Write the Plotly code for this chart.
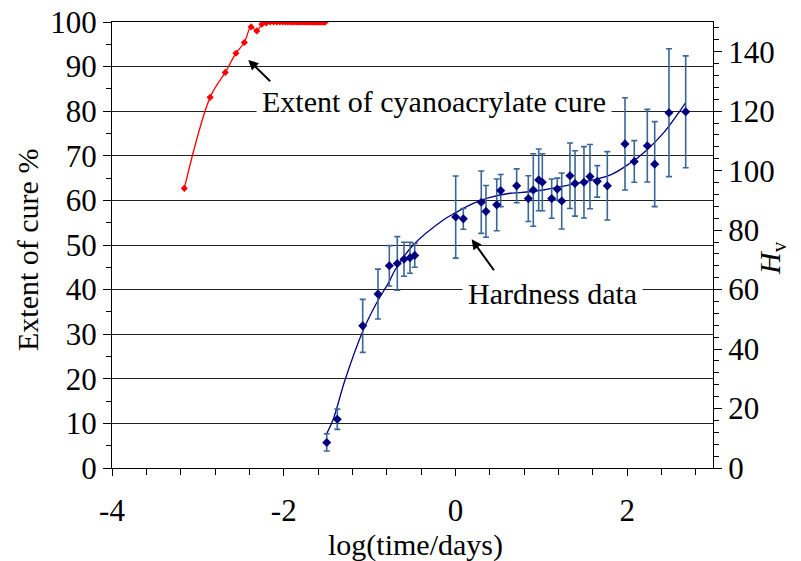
import plotly.graph_objects as go

# ---- Cyanoacrylate cure (left axis, %) ----
cure_x = [-3.158, -2.857, -2.681, -2.556, -2.459, -2.380, -2.313, -2.255, -2.204, -2.158,
          -2.117, -2.079, -2.045, -2.012, -1.982, -1.954, -1.928, -1.903, -1.880, -1.857,
          -1.836, -1.816, -1.797, -1.778, -1.761, -1.743, -1.727, -1.711, -1.696, -1.681,
          -1.667, -1.653, -1.640, -1.627, -1.614, -1.602, -1.590, -1.579, -1.567, -1.556,
          -1.546, -1.535, -1.525, -1.515]
cure_y = [62.7, 83.1, 88.7, 93.0, 95.4, 98.9, 98.0, 99.5, 99.8, 100,
          100, 100, 100, 100, 100, 100, 100, 100, 100, 100,
          100, 100, 100, 100, 100, 100, 100, 100, 100, 100,
          100, 100, 100, 100, 100, 100, 100, 100, 100, 100,
          100, 100, 100, 100]

# ---- Hardness data (right axis, Hv) ----
hard_x = [-1.499, -1.376, -1.080, -0.902, -0.770, -0.677, -0.599, -0.529, -0.474,
          0.003, 0.092, 0.301, 0.356, 0.481, 0.527, 0.713, 0.849, 0.907, 0.970,
          1.012, 1.121, 1.186, 1.238, 1.334, 1.393, 1.497, 1.567, 1.652, 1.769,
          1.975, 2.083, 2.235, 2.321, 2.487, 2.682]
hard_y = [8.6, 16.4, 47.8, 58.5, 68.0, 68.8, 70.2, 70.7, 71.5,
          84.4, 83.8, 89.4, 86.3, 88.5, 93.3, 94.9, 90.6, 93.5, 96.9,
          96.1, 90.6, 93.8, 89.8, 98.3, 95.7, 96.1, 98.0, 96.4, 94.9,
          109.0, 103.1, 108.4, 102.2, 119.5, 119.8]
hard_err = [2.9, 3.4, 8.9, 8.4, 6.8, 9.0, 5.7, 5.2, 4.0,
            13.8, 3.5, 10.5, 8.7, 8.7, 5.4, 5.7, 7.7, 12.2, 10.4,
            9.6, 6.6, 3.7, 9.4, 11.0, 11.0, 12.0, 10.8, 5.3, 11.5,
            15.5, 7.0, 12.2, 14.3, 21.5, 18.8]

# ---- Hardness trend curve ----
trend_x = [-1.508, -1.423, -1.286, -1.073, -0.937, -0.762, -0.704, -0.491, -0.141,
           0.003, 0.208, 0.403, 0.635, 0.752, 1.023, 1.412, 1.800, 2.033, 2.227,
           2.421, 2.682]
trend_y = [11.1, 16.4, 29.6, 46.4, 54.5, 63.2, 66.6, 75.0, 83.4,
           85.9, 89.0, 91.0, 92.4, 92.6, 93.5, 95.7, 98.5, 102.5, 106.9,
           112.6, 122.9]

# ---- Axis tick labels ----
x_tickvals = [-4, -2, 0, 2]
x_ticktext = ["-4", "-2", "0", "2"]

FONT = "Liberation Serif"
FS_TICK = 31
FS_TEXT = 30

fig = go.Figure()

fig.add_trace(go.Scatter(
    x=cure_x, y=cure_y, mode="lines+markers",
    line=dict(color="#FF0000", width=1.3, shape="spline", smoothing=1.0),
    marker=dict(symbol="diamond", size=5.5, color="#FF0000"),
    showlegend=False, yaxis="y"))

fig.add_trace(go.Scatter(
    x=trend_x, y=trend_y, mode="lines",
    line=dict(color="#000080", width=1.3, shape="spline", smoothing=1.0),
    showlegend=False, yaxis="y2"))

fig.add_trace(go.Scatter(
    x=hard_x, y=hard_y, mode="markers",
    marker=dict(symbol="diamond", size=7, color="#000080"),
    error_y=dict(type="data", array=hard_err, visible=True,
                 color="#3A6797", thickness=1.6, width=3),
    showlegend=False, yaxis="y2"))

fig.update_layout(
    width=801, height=561,
    margin=dict(l=112, r=88, t=22, b=93, autoexpand=False),
    paper_bgcolor="white", plot_bgcolor="white",
    font=dict(family=FONT, size=FS_TICK, color="black"),
    xaxis=dict(range=[-4, 3], tickmode="array", tickvals=x_tickvals, ticktext=x_ticktext,
               ticks="outside", ticklen=7, ticklabelstandoff=8, automargin=False,
               tickcolor="black", showline=True, linecolor="black", linewidth=1,
               mirror=True, showgrid=False, zeroline=False,
               minor=dict(tick0=-4, dtick=0.4, ticks="outside", ticklen=6, tickcolor="black"),
               tickfont=dict(family=FONT, size=FS_TICK)),
    yaxis=dict(range=[0, 100], dtick=10, ticks="outside", ticklen=8, tickcolor="black",
               showline=True, linecolor="black", linewidth=1, automargin=False,
               showgrid=True, gridcolor="#222222", gridwidth=1, zeroline=False,
               minor=dict(dtick=5, ticks="outside", ticklen=5, tickcolor="black"),
               tickfont=dict(family=FONT, size=FS_TICK)),
    yaxis2=dict(range=[0, 150], dtick=20, overlaying="y", side="right",
                ticks="outside", ticklen=8, tickcolor="black", automargin=False,
                showline=True, linecolor="black", linewidth=1,
                showgrid=False, zeroline=False,
                minor=dict(dtick=4, ticks="outside", ticklen=5, tickcolor="black"),
                tickfont=dict(family=FONT, size=FS_TICK)),
)

annotations = [
    dict(text="log(time/days)", xref="paper", yref="paper",
         x=(415 - 112) / 601, y=(468 - 545) / 446, xanchor="center", yanchor="middle",
         showarrow=False, font=dict(family=FONT, size=FS_TEXT)),
    dict(text="Extent of cure %", xref="paper", yref="paper",
         x=(28 - 112) / 601, y=(468 - 250) / 446, textangle=-90,
         xanchor="center", yanchor="middle",
         showarrow=False, font=dict(family=FONT, size=FS_TEXT)),
    dict(text="<i>H</i><sub>v</sub>", xref="paper", yref="paper",
         x=(772 - 112) / 601, y=(468 - 258) / 446, textangle=-90,
         xanchor="center", yanchor="middle",
         showarrow=False, font=dict(family=FONT, size=FS_TEXT)),
    dict(text="Extent of cyanoacrylate cure", xref="x", yref="y",
         x=-0.25, y=82.1, showarrow=False, bgcolor="white", borderpad=5,
         font=dict(family=FONT, size=FS_TEXT)),
    dict(text="Hardness data", xref="x", yref="y",
         x=1.125, y=39.2, showarrow=False, bgcolor="white", borderpad=5,
         font=dict(family=FONT, size=FS_TEXT)),
    dict(text="", xref="x", yref="y", axref="x", ayref="y",
         x=-2.4125, y=91.5, ax=-2.140, ay=86.4,
         showarrow=True, arrowhead=2, arrowsize=1, arrowwidth=2, arrowcolor="black"),
    dict(text="", xref="x", yref="y", axref="x", ayref="y",
         x=0.189, y=51.3, ax=0.461, ay=44.0,
         showarrow=True, arrowhead=2, arrowsize=1, arrowwidth=2, arrowcolor="black"),
]
fig.update_layout(annotations=annotations)

fig.write_html("out.html")
